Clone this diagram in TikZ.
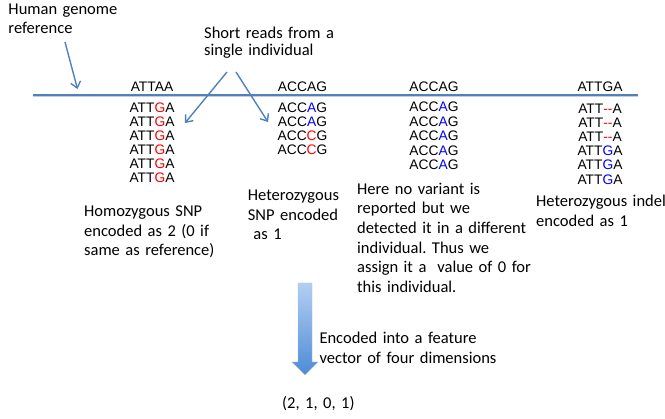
\documentclass[tikz,border=0pt]{standalone}
\usepackage{fontspec}
\setmainfont{Carlito}
\newfontfamily\seqfont{Liberation Sans}
\usepackage{xcolor}
\usepackage{tikz}
\usetikzlibrary{arrows.meta}
\definecolor{refBlue}{HTML}{4F81BD}
\definecolor{snpRed}{HTML}{FF0000}
\definecolor{altBlue}{HTML}{0000FF}
\definecolor{shaftTop}{HTML}{B3CFF3}
\definecolor{shaftBot}{HTML}{4D8BD6}
\newcommand{\mutR}[1]{\textcolor{snpRed}{#1}}
\newcommand{\mutB}[1]{\textcolor{altBlue}{#1}}
\frenchspacing

\begin{document}
\begin{tikzpicture}[x=1pt, y=-1pt,
    note/.style={font=\fontsize{16.5}{19.6}\selectfont, text width=8cm, align=left,
                 inner sep=0pt, anchor=base west},
    seq/.style={font=\seqfont\fontsize{13.8}{14}\selectfont, inner sep=0pt, anchor=base},
    pointer/.style={refBlue, line width=1.4pt,
                    -{Straight Barb[length=6pt, width=10pt, line width=1.4pt]}}]
  \useasboundingbox (0,0) rectangle (665,419);

  % ── Reference line with its four windows
  \coordinate (refL) at (33,95);
  \coordinate (refR) at (638,95);
  \draw[black!20, line width=1pt] ([yshift=-1.6pt]refL) -- ([yshift=-1.6pt]refR);
  \draw[refBlue, line width=1.6pt] (refL) -- (refR);
  \foreach \s/\x [count=\c] in {ATTAA/152, ACCAG/302.5, ACCAG/434, ATTGA/600}
    \node[seq] (ref\c) at (\x, 91.5) {\s};

  % ── Reads under each window
  \foreach \s [count=\k] in {ATT\mutR{G}A, ATT\mutR{G}A, ATT\mutR{G}A,
                             ATT\mutR{G}A, ATT\mutR{G}A, ATT\mutR{G}A}
    \node[seq] (rdA\k) at (152, 99 + 14*\k) {\s};
  \foreach \s [count=\k] in {ACC\mutB{A}G, ACC\mutB{A}G, ACC\mutR{C}G, ACC\mutR{C}G}
    \node[seq] (rdB\k) at (302.5, 99 + 14*\k) {\s};
  \foreach \s [count=\k] in {ACC\mutB{A}G, ACC\mutB{A}G, ACC\mutB{A}G,
                             ACC\mutB{A}G, ACC\mutB{A}G}
    \node[seq] (rdC\k) at (434, 97.5 + 14.4*\k) {\s};
  \foreach \s [count=\k] in {ATT\mutR{-{}-}A, ATT\mutR{-{}-}A, ATT\mutR{-{}-}A,
                             ATT\mutB{G}A, ATT\mutB{G}A, ATT\mutB{G}A}
    \node[seq] (rdD\k) at (600, 99 + 14.2*\k) {\s};

  % ── Labels
  \node[note, font=\fontsize{16.5}{18.3}\selectfont] (genome) at (8.3,15) {Human genome\\reference};
  \node[note, font=\fontsize{16.5}{16.8}\selectfont] (reads) at (204,39) {Short reads from a\\single individual};
  \node[note] (homo) at (84,216.7) {Homozygous SNP\\encoded as 2 (0 if\\same as reference)};
  \node[note] (hetero) at (247.7,200.7) {Heterozygous\\SNP encoded\\~as 1};
  \node[note] (novar) at (357,194.3) {Here no variant is\\reported but we\\detected it in a different\\individual. Thus we\\assign it a~ value of 0 for\\this individual.};
  \node[note] (indel) at (536,207) {Heterozygous indel\\encoded as 1};
  \node[note] (encode) at (319.3,344) {Encoded into a feature\\vector of four dimensions};
  \node[note] (vector) at (282,409) {(2, 1, 0, 1)};

  % ── Pointers
  \coordinate (genomeTail) at (65,42);
  \coordinate (genomeTip) at (77.5,89);
  \coordinate (readsTailL) at (227,72);
  \coordinate (readsTipL) at (185,123);
  \coordinate (readsTailR) at (236,72);
  \coordinate (readsTipR) at (268,122);
  \draw[pointer] (genomeTail) -- (genomeTip);
  \draw[pointer] (readsTailL) -- (readsTipL);
  \draw[pointer] (readsTailR) -- (readsTipR);

  % ── Block arrow: encoding step
  \shade[top color=shaftTop, bottom color=shaftBot, draw=refBlue!50, line width=0.4pt]
    (298,283) -- (312,283) -- (312,362) -- (318,362) -- (305,375)
    -- (292,362) -- (298,362) -- cycle;
\end{tikzpicture}
\end{document}
